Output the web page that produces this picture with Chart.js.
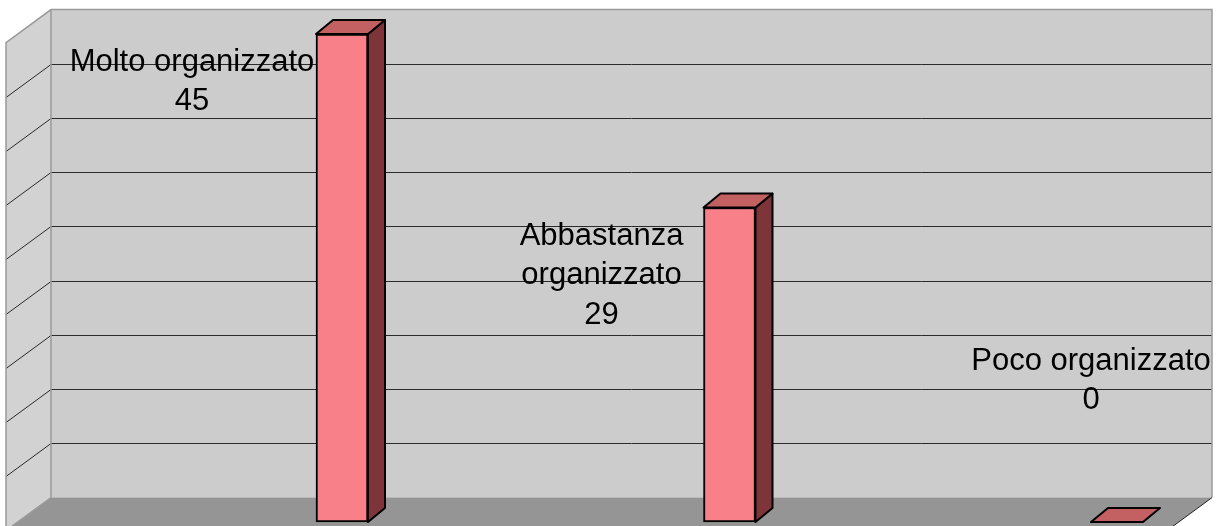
<!DOCTYPE html>
<html>
<head>
<meta charset="utf-8">
<script src="https://cdn.jsdelivr.net/npm/chart.js@4"></script>
<style>
  html, body { margin: 0; padding: 0; background: #fff; }
  canvas { display: block; }
</style>
</head>
<body>
<canvas id="grafico" width="1221" height="526"></canvas>
<script>
const categorie = ['Molto organizzato', 'Abbastanza organizzato', 'Poco organizzato'];
const risposte = [45, 29, 0];
const tickValori = [0, 5, 10, 15, 20, 25, 30, 35, 40, 45];

// etichette: spostamento dalla cima della barra (ultima riga = valore)
const posEtichette = [
    { dx: -150, dy: 76 },
    { dx: -128, dy: 116 },
    { dx: -26, dy: -113 }
];

// profondita' finta 3D
const barraProf = { dx: 17, dy: -14 };
const pareteDy = -24.4;
const pareteSx = 51, pareteDx = 1212;
const latoX = 6, latoDy = 33;

const scena3d = {
    id: 'scena3d',
    beforeDatasetsDraw(chart) {
        const ctx = chart.ctx;
        const y = chart.scales.y;
        const by = v => y.getPixelForValue(v) + pareteDy;
        const top = by(tickValori[tickValori.length - 1]);
        const bot = by(0);
        ctx.save();

        // parete di fondo
        ctx.fillStyle = '#cccccc';
        ctx.fillRect(pareteSx, top, pareteDx - pareteSx, bot - top);

        // parete laterale
        ctx.fillStyle = '#d2d2d2';
        ctx.beginPath();
        ctx.moveTo(latoX, top + latoDy);
        ctx.lineTo(pareteSx, top);
        ctx.lineTo(pareteSx, bot);
        ctx.lineTo(latoX, bot + latoDy);
        ctx.closePath();
        ctx.fill();

        // pavimento
        ctx.fillStyle = '#959595';
        ctx.beginPath();
        ctx.moveTo(pareteSx, bot);
        ctx.lineTo(pareteDx, bot);
        ctx.lineTo(pareteDx - (pareteSx - latoX), bot + latoDy);
        ctx.lineTo(latoX, bot + latoDy);
        ctx.closePath();
        ctx.fill();

        // griglia
        ctx.strokeStyle = '#2a2a2a';
        ctx.lineWidth = 1;
        tickValori.forEach(v => {
            if (v === 0 || v === tickValori[tickValori.length - 1]) return;
            const py = Math.round(by(v)) + 0.5;
            ctx.beginPath();
            ctx.moveTo(pareteSx, py);
            ctx.lineTo(pareteDx, py);
            ctx.moveTo(pareteSx, py);
            ctx.lineTo(latoX, py + latoDy);
            ctx.stroke();
        });

        // bordi
        ctx.strokeStyle = '#9a9a9a';
        ctx.lineWidth = 1.5;
        ctx.beginPath();
        ctx.moveTo(latoX, 526);
        ctx.lineTo(latoX, top + latoDy);
        ctx.lineTo(pareteSx, top);
        ctx.lineTo(pareteDx, top);
        ctx.lineTo(pareteDx, bot);
        ctx.moveTo(pareteSx, top);
        ctx.lineTo(pareteSx, bot);
        ctx.lineTo(latoX, bot + latoDy);
        ctx.stroke();

        ctx.strokeStyle = '#222';
        ctx.lineWidth = 1;
        ctx.beginPath();
        ctx.moveTo(pareteDx, bot);
        ctx.lineTo(pareteDx - (pareteSx - latoX), bot + latoDy);
        ctx.stroke();
        ctx.restore();
    },
    afterDatasetsDraw(chart) {
        const ctx = chart.ctx;
        const meta = chart.getDatasetMeta(0);
        ctx.save();
        ctx.lineJoin = 'round';
        ctx.strokeStyle = '#000';
        ctx.lineWidth = 2;
        meta.data.forEach((el, i) => {
            const p = el.getProps(['x', 'y', 'base', 'width'], true);
            const l = p.x - p.width / 2, r = p.x + p.width / 2;
            const dx = barraProf.dx, dy = barraProf.dy;
            // lato
            if (p.base - p.y > 0.5) {
                ctx.fillStyle = '#7e353a';
                ctx.beginPath();
                ctx.moveTo(r, p.y);
                ctx.lineTo(r + dx, p.y + dy);
                ctx.lineTo(r + dx, p.base + dy);
                ctx.lineTo(r, p.base);
                ctx.closePath();
                ctx.fill();
                ctx.stroke();
            }
            // cima
            ctx.fillStyle = '#c26062';
            ctx.beginPath();
            ctx.moveTo(l, p.y);
            ctx.lineTo(r, p.y);
            ctx.lineTo(r + dx, p.y + dy);
            ctx.lineTo(l + dx, p.y + dy);
            ctx.closePath();
            ctx.fill();
            ctx.stroke();
        });

        // etichette
        ctx.fillStyle = '#000';
        ctx.font = '31px "Liberation Sans", Arial, sans-serif';
        ctx.textAlign = 'center';
        ctx.textBaseline = 'alphabetic';
        meta.data.forEach((el, i) => {
            const p = el.getProps(['x', 'y'], true);
            const parole = categorie[i].split(' ');
            const righe = [];
            let riga = '';
            parole.forEach(w => {
                const prova = riga ? riga + ' ' + w : w;
                if (riga && ctx.measureText(prova).width > 250) {
                    righe.push(riga);
                    riga = w;
                } else {
                    riga = prova;
                }
            });
            righe.push(riga);
            righe.push(String(risposte[i]));
            const cx = p.x + posEtichette[i].dx;
            const yUltima = p.y + posEtichette[i].dy;
            righe.forEach((t, k) => {
                ctx.fillText(t, cx, yUltima - (righe.length - 1 - k) * 39.5);
            });
        });
        ctx.restore();
    }
};

const grafico = new Chart(document.getElementById('grafico'), {
    type: 'bar',
    data: {
        labels: categorie,
        datasets: [{
            data: risposte,
            backgroundColor: '#f88088',
            borderColor: '#000',
            borderWidth: 2,
            borderSkipped: false,
            barThickness: 52,
            clip: false
        }]
    },
    options: {
        responsive: false,
        animation: false,
        layout: { padding: { left: 342, right: 104, top: 34, bottom: 4 } },
        scales: {
            x: { type: 'category', offset: false, display: false },
            y: { min: 0, max: 45, display: false, ticks: { stepSize: 5 } }
        },
        plugins: {
            legend: { display: false },
            tooltip: { enabled: false }
        }
    },
    plugins: [scena3d]
});
</script>
</body>
</html>
